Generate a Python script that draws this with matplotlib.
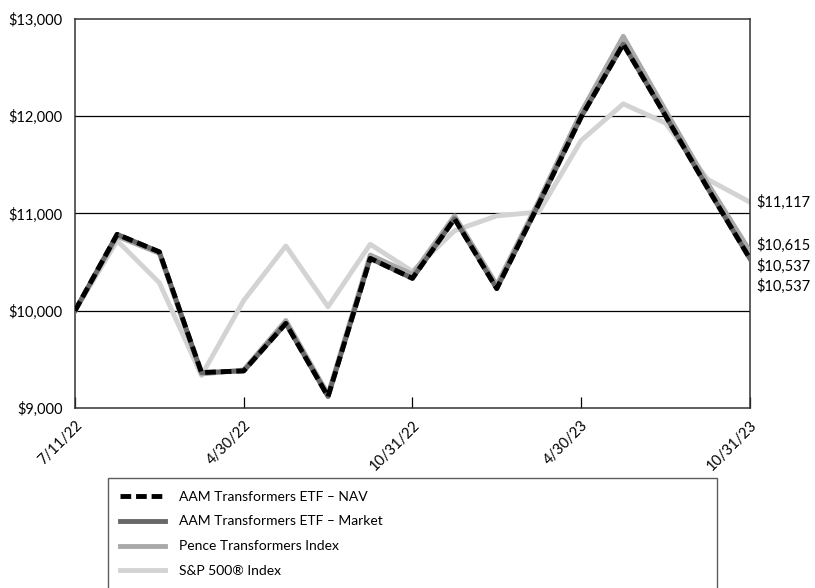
import matplotlib
matplotlib.use("Agg")
import matplotlib.pyplot as plt
import numpy as np

plt.rcParams['font.family'] = ['Lato', 'DejaVu Sans']

# growth of $10,000, 17 evenly spaced points
tick_labels = ["7/11/22", "4/30/22", "10/31/22", "4/30/23", "10/31/23"]
tick_idx = [0, 4, 8, 12, 16]

nav = [10000, 10785, 10605, 9365, 9382, 9870, 9118, 10538, 10333, 10945, 10228,
       11100, 11990, 12740, 12005, 11260, 10537]
market = [10000, 10785, 10605, 9365, 9382, 9870, 9118, 10538, 10333, 10945, 10228,
          11100, 11990, 12740, 12005, 11260, 10537]
pence = [10000, 10765, 10590, 9350, 9392, 9900, 9140, 10573, 10375, 10975, 10265,
         11130, 12040, 12820, 12060, 11310, 10615]
sp500 = [10000, 10720, 10288, 9335, 10105, 10666, 10041, 10683, 10405, 10823, 10975,
         11015, 11748, 12126, 11930, 11350, 11117]

names = ["AAM Transformers ETF \u2013 NAV", "AAM Transformers ETF \u2013 Market",
         "Pence Transformers Index", "S&P 500\u00ae Index"]

x = np.arange(len(nav))

fig = plt.figure(figsize=(8.15, 5.88), dpi=100)
ax = fig.add_axes([0.092, 0.306, 0.828, 0.662])

for v in [10000, 11000, 12000]:
    ax.axhline(v, color='black', lw=0.9, zorder=1)

ax.plot(x, sp500, color='#d3d3d3', lw=3.5, zorder=2, label=names[3])
ax.plot(x, pence, color='#a9a9a9', lw=3.5, zorder=3, label=names[2])
ax.plot(x, market, color='#686868', lw=3.5, zorder=4, label=names[1])
ax.plot(x, nav, color='black', lw=3.5, ls=(0, (2.2, 1.0)), zorder=5, label=names[0])

ax.set_xlim(0, 16)
ax.set_ylim(9000, 13000)
ax.set_yticks([9000, 10000, 11000, 12000, 13000])
ax.set_yticklabels(["${:,}".format(v) for v in [9000, 10000, 11000, 12000, 13000]])
ax.tick_params(axis='y', length=0, pad=9, labelsize=10.5)
ax.set_xticks(tick_idx)
ax.set_xticklabels(tick_labels, rotation=45, ha='right', va='top', rotation_mode='anchor')
ax.tick_params(axis='x', direction='in', length=8, width=0.9, pad=7, labelsize=10.5)

for s in ax.spines.values():
    s.set_color('#333333')
    s.set_linewidth(1.1)

# end labels
ends = [(sp500[-1], 0), (pence[-1], 4), (nav[-1], -6), (market[-1], -20)]
for val, off in ends:
    ax.annotate("${:,}".format(val), xy=(16, val), xytext=(5, off),
                textcoords='offset points', va='center', ha='left',
                fontsize=10.5, annotation_clip=False)

h, l = ax.get_legend_handles_labels()
order = [3, 2, 1, 0]
leg = fig.legend([h[i] for i in order], [l[i] for i in order],
                 loc='upper left', bbox_to_anchor=(0.1325, 0.0, 0.7475, 0.187),
                 mode='expand', ncol=1, fontsize=10, frameon=True, fancybox=False,
                 edgecolor='#333333', handlelength=3.2, handletextpad=1.0,
                 labelspacing=0.93, borderpad=0.9, borderaxespad=0)
leg.get_frame().set_linewidth(1.0)

fig.savefig("out.png", dpi=100)
